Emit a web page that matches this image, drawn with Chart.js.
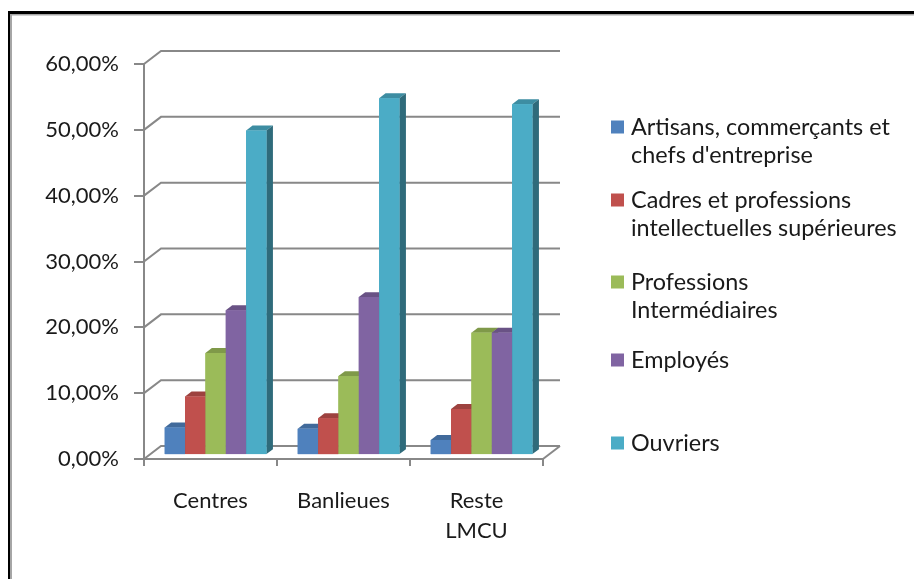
<!DOCTYPE html>
<html lang="fr">
<head>
<meta charset="utf-8">
<title>CSP par zone - LMCU</title>
<style>
  html, body { margin: 0; padding: 0; background: #fff; }
  #wrap { width: 914px; height: 579px; position: relative; }
</style>
</head>
<body>
<div id="wrap"><canvas id="graph" width="914" height="579"></canvas></div>

<script src="https://cdn.jsdelivr.net/npm/chart.js@4.4.1/dist/chart.umd.min.js"></script>
<script>
// zones et parts de chaque catégorie socio-professionnelle
var zones = ['Centres', 'Banlieues', ['Reste', 'LMCU']];
var categories = [
  ['Artisans, commerçants et', "chefs d'entreprise"],
  ['Cadres et professions', 'intellectuelles supérieures'],
  ['Professions', 'Intermédiaires'],
  ['Employés'],
  ['Ouvriers']
];
var artisans   = [0.042, 0.040, 0.023];
var cadres     = [0.089, 0.056, 0.070];
var interm     = [0.155, 0.120, 0.186];
var employes   = [0.220, 0.240, 0.186];
var ouvriers   = [0.493, 0.542, 0.533];
var yTicks     = [0, 0.1, 0.2, 0.3, 0.4, 0.5, 0.6];

var couleurs = ['#4F81BD', '#C0504D', '#9BBB59', '#8064A2', '#4BACC6'];
var GRIS = '#888888';
var POLICE = 'Lato, "Open Sans", sans-serif';
var TEXTE = '#1a1a1a';

// profondeur du "3D" : décalage du fond par rapport au plan avant
var PROF_X = 17, PROF_Y = -13;
var BARRE_AVANT = 0.3, BARRE_PROF = 0.38;

function assombrir(hex, f) {
  var n = parseInt(hex.slice(1), 16);
  var r = Math.round(((n >> 16) & 255) * f);
  var g = Math.round(((n >> 8) & 255) * f);
  var b = Math.round((n & 255) * f);
  return 'rgb(' + r + ',' + g + ',' + b + ')';
}

// murs, grille du fond, barres en relief
var relief = {
  id: 'relief',
  beforeDatasetsDraw: function (chart) {
    var ctx = chart.ctx, a = chart.chartArea, y = chart.scales.y;
    ctx.save();
    ctx.strokeStyle = GRIS;
    ctx.lineWidth = 2;
    yTicks.forEach(function (v) {
      var py = y.getPixelForValue(v);
      ctx.beginPath();
      ctx.moveTo(a.left, py);
      ctx.lineTo(a.left + PROF_X, py + PROF_Y);
      ctx.lineTo(a.right + PROF_X, py + PROF_Y);
      ctx.stroke();
    });
    // bord droit du sol
    ctx.beginPath();
    ctx.moveTo(a.right, a.bottom);
    ctx.lineTo(a.right + PROF_X, a.bottom + PROF_Y);
    ctx.stroke();
    ctx.restore();

    ctx.save();
    ctx.translate(BARRE_AVANT * PROF_X, BARRE_AVANT * PROF_Y);
  },
  afterDatasetsDraw: function (chart) {
    var ctx = chart.ctx;
    var dx = BARRE_PROF * PROF_X, dy = BARRE_PROF * PROF_Y;
    var barres = [];
    chart.data.datasets.forEach(function (ds, i) {
      chart.getDatasetMeta(i).data.forEach(function (el) {
        barres.push({ el: el, c: ds.backgroundColor });
      });
    });
    barres.sort(function (p, q) { return p.el.x - q.el.x; });
    barres.forEach(function (b) {
      var el = b.el;
      var x0 = el.x - el.width / 2, x1 = el.x + el.width / 2;
      var top = el.y, base = el.base;
      // dessus
      ctx.fillStyle = assombrir(b.c, 0.82);
      ctx.beginPath();
      ctx.moveTo(x0, top);
      ctx.lineTo(x0 + dx, top + dy);
      ctx.lineTo(x1 + dx, top + dy);
      ctx.lineTo(x1, top);
      ctx.closePath();
      ctx.fill();
      // côté
      ctx.fillStyle = assombrir(b.c, 0.62);
      ctx.beginPath();
      ctx.moveTo(x1, top);
      ctx.lineTo(x1 + dx, top + dy);
      ctx.lineTo(x1 + dx, base + dy);
      ctx.lineTo(x1, base);
      ctx.closePath();
      ctx.fill();
      // face avant
      ctx.fillStyle = b.c;
      ctx.fillRect(x0, top, x1 - x0, base - top);
    });
    ctx.restore();
  },
  afterDraw: function (chart) {
    var ctx = chart.ctx;
    // cadre
    ctx.save();
    ctx.fillStyle = '#000';
    ctx.fillRect(8, 11, 906, 3);
    ctx.fillRect(8, 11, 2, 568);
    ctx.fillStyle = '#a6a6a6';
    ctx.fillRect(10, 14, 904, 1.5);
    ctx.fillRect(10, 14, 2, 565);

    // légende
    var lg = chart.options.plugins.legende;
    ctx.font = lg.taille + 'px ' + POLICE;
    ctx.textBaseline = 'middle';
    chart.data.datasets.forEach(function (ds, i) {
      var yy = lg.lignes[i];
      ctx.fillStyle = ds.backgroundColor;
      ctx.fillRect(lg.x, yy - 6.5, 13, 13);
      ctx.fillStyle = TEXTE;
      ds.label.forEach(function (t, k) {
        ctx.fillText(t, lg.x + 20, yy + k * lg.interligne);
      });
    });
    ctx.restore();
  }
};

var series = [artisans, cadres, interm, employes, ouvriers];

new Chart(document.getElementById('graph'), {
  type: 'bar',
  data: {
    labels: zones,
    datasets: series.map(function (s, i) {
      return {
        label: categories[i],
        data: s,
        backgroundColor: couleurs[i],
        categoryPercentage: 0.765,
        barPercentage: 1
      };
    })
  },
  options: {
    responsive: false,
    animation: false,
    layout: { padding: { top: 64, right: 371, left: 0, bottom: 0 } },
    plugins: {
      legend: { display: false },
      tooltip: { enabled: false },
      legende: { x: 611, lignes: [127, 200, 282, 360, 443], interligne: 28.5, taille: 23.4 }
    },
    scales: {
      x: {
        grid: { offset: true, drawOnChartArea: false, tickLength: 7, color: GRIS, lineWidth: 2 },
        border: { color: GRIS, width: 2 },
        ticks: { color: TEXTE, padding: 20, maxRotation: 0, font: { family: POLICE, size: 22, lineHeight: 1.36 } },
        afterFit: function (s) { s.height = 120; }
      },
      y: {
        min: 0,
        max: 0.6,
        grid: { drawOnChartArea: false, tickLength: 10, color: GRIS, lineWidth: 2 },
        border: { color: GRIS, width: 2 },
        ticks: {
          stepSize: 0.1,
          padding: 15,
          color: TEXTE,
          font: { family: POLICE, size: 22 },
          callback: function (v) { return (v * 100).toFixed(2).replace('.', ',') + '%'; }
        },
        afterFit: function (s) { s.width = 144; }
      }
    }
  },
  plugins: [relief]
});
</script>
</body>
</html>
